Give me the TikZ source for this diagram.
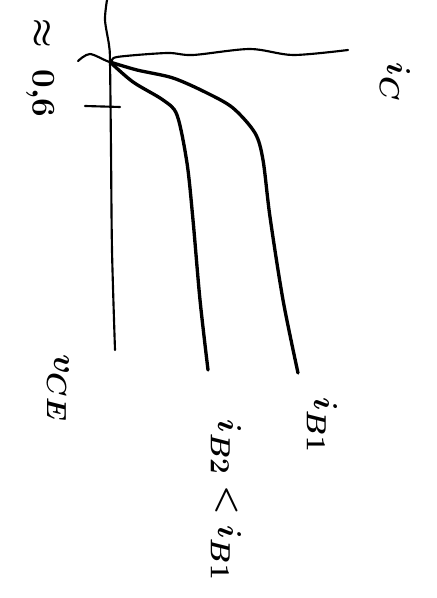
\documentclass[tikz,border=0pt]{standalone}
\usetikzlibrary{positioning}

\begin{document}
\begin{tikzpicture}[
  x=0.75pt, y=-0.75pt,
  axis/.style={line width=1.6pt, line cap=round, line join=round},
  curve/.style={line width=2.5pt, line cap=round, line join=round},
  lbl/.style={rotate=-90, inner sep=0pt, font=\fontsize{32}{36}\selectfont\boldmath}
]
\useasboundingbox (0,0) rectangle (436,598);

% origin, axis ends and tick
\coordinate (O) at (110,62);
\coordinate (vtop) at (107,0);
\coordinate (vend) at (115,350);
\coordinate (ctail) at (78,61);
\coordinate (cend) at (348,50);
\coordinate (tick1) at (85,106);
\coordinate (tick2) at (120,107);
\coordinate (b1end) at (298,373);
\coordinate (b2end) at (208,370);

% axes
\draw[axis] plot[smooth] coordinates
  {(vtop) (105,20) (109,45) (O) (111,150) (112,250) (vend)};
\draw[axis] plot[smooth] coordinates
  {(ctail) (90,54) (O) (117,57) (167,53) (193,55) (250,49) (293,55) (cend)};
\draw[axis] (tick1) -- (tick2);

% characteristic curves
\draw[curve] plot[smooth] coordinates
  {(O) (137,70) (173,78) (207,93) (233,108) (255,133) (263,160)
   (270,217) (283,300) (b1end)};
\draw[curve] plot[smooth] coordinates
  {(O) (133,82) (163,100) (177,115) (187,163) (193,220) (200,300) (b2end)};

\node[lbl] (uth) at (40,68) {$\approx\;0{,}6$};
\node[lbl] (vce) at (58,388) {$v_{CE}$};
\node[lbl] (ic) at (395,82) {$i_C$};
\node[lbl] (ib1) at (322,425) {$i_{B1}$};
\node[lbl] (ib2) at (226,500) {$i_{B2} < i_{B1}$};

\end{tikzpicture}
\end{document}
